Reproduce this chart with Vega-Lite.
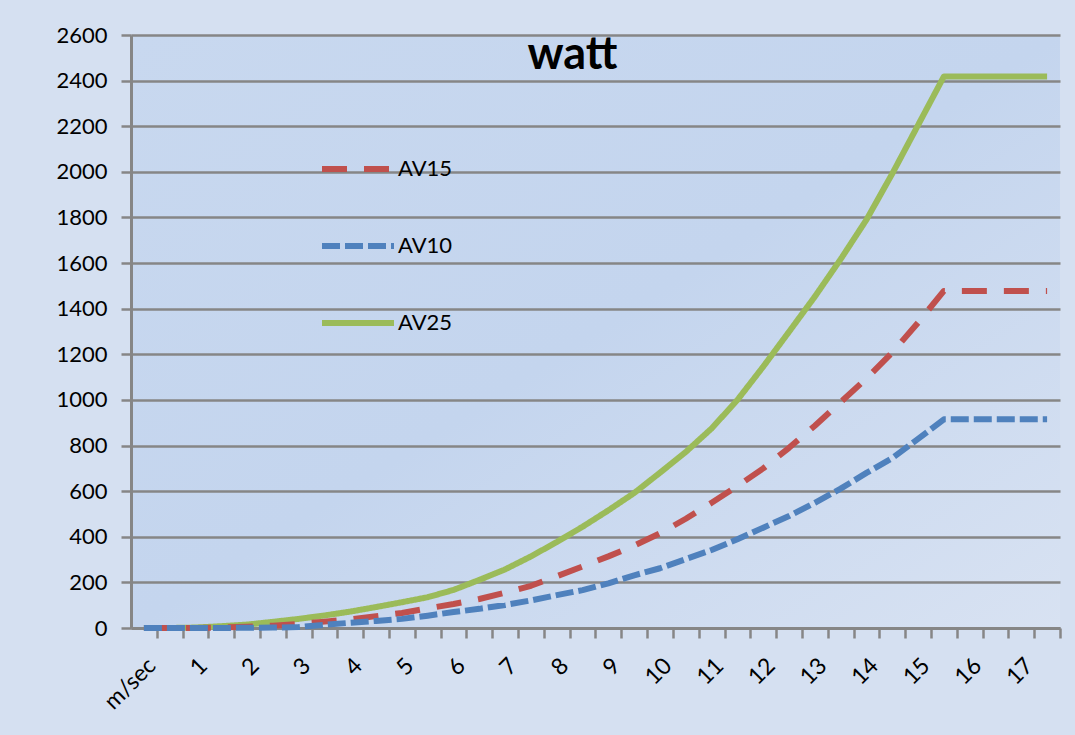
{
  "$schema": "https://vega.github.io/schema/vega-lite/v6.json",
  "autosize": {"type": "none"},
  "width": 929,
  "height": 593,
  "padding": {"left": 131, "top": 35, "right": 15, "bottom": 107},
  "background": "#d5e0f1",
  "config": {
    "font": "Lato",
    "view": {
      "stroke": null,
      "fill": {"gradient": "linear", "x1": 0, "y1": 0, "x2": 1, "y2": 1,
        "stops": [{"offset": 0, "color": "#c8d8ef"}, {"offset": 0.5, "color": "#c4d5ee"}, {"offset": 1, "color": "#d8e2f2"}]}
    }
  },
  "title": {
    "text": "watt",
    "frame": "group",
    "anchor": "middle",
    "orient": "top",
    "offset": -35,
    "baseline": "alphabetic",
    "dx": -23,
    "dy": 55,
    "fontSize": 45,
    "font": "Lato",
    "fontWeight": "bold",
    "color": "#000000"
  },
  "data": {"values": [
    {"k":0,"series":"AV25","watt":0},{"k":1,"series":"AV25","watt":0},{"k":2,"series":"AV25","watt":2},{"k":3,"series":"AV25","watt":8},{"k":4,"series":"AV25","watt":15},{"k":5,"series":"AV25","watt":27},{"k":6,"series":"AV25","watt":40},{"k":7,"series":"AV25","watt":55},{"k":8,"series":"AV25","watt":72},{"k":9,"series":"AV25","watt":92},{"k":10,"series":"AV25","watt":113},{"k":11,"series":"AV25","watt":135},{"k":12,"series":"AV25","watt":167},{"k":13,"series":"AV25","watt":211},{"k":14,"series":"AV25","watt":257},{"k":15,"series":"AV25","watt":314},{"k":16,"series":"AV25","watt":377},{"k":17,"series":"AV25","watt":444},{"k":18,"series":"AV25","watt":516},{"k":19,"series":"AV25","watt":592},{"k":20,"series":"AV25","watt":681},{"k":21,"series":"AV25","watt":772},{"k":22,"series":"AV25","watt":875},{"k":23,"series":"AV25","watt":1000},{"k":24,"series":"AV25","watt":1146},{"k":25,"series":"AV25","watt":1299},{"k":26,"series":"AV25","watt":1453},{"k":27,"series":"AV25","watt":1617},{"k":28,"series":"AV25","watt":1790},{"k":29,"series":"AV25","watt":1992},{"k":30,"series":"AV25","watt":2205},{"k":31,"series":"AV25","watt":2418},{"k":32,"series":"AV25","watt":2418},{"k":33,"series":"AV25","watt":2418},{"k":34,"series":"AV25","watt":2418},{"k":35,"series":"AV25","watt":2418},
    {"k":0,"series":"AV15","watt":0},{"k":1,"series":"AV15","watt":0},{"k":2,"series":"AV15","watt":0},{"k":3,"series":"AV15","watt":2},{"k":4,"series":"AV15","watt":5},{"k":5,"series":"AV15","watt":10},{"k":6,"series":"AV15","watt":18},{"k":7,"series":"AV15","watt":28},{"k":8,"series":"AV15","watt":38},{"k":9,"series":"AV15","watt":52},{"k":10,"series":"AV15","watt":66},{"k":11,"series":"AV15","watt":86},{"k":12,"series":"AV15","watt":105},{"k":13,"series":"AV15","watt":127},{"k":14,"series":"AV15","watt":155},{"k":15,"series":"AV15","watt":185},{"k":16,"series":"AV15","watt":227},{"k":17,"series":"AV15","watt":270},{"k":18,"series":"AV15","watt":314},{"k":19,"series":"AV15","watt":361},{"k":20,"series":"AV15","watt":415},{"k":21,"series":"AV15","watt":479},{"k":22,"series":"AV15","watt":549},{"k":23,"series":"AV15","watt":622},{"k":24,"series":"AV15","watt":700},{"k":25,"series":"AV15","watt":790},{"k":26,"series":"AV15","watt":887},{"k":27,"series":"AV15","watt":990},{"k":28,"series":"AV15","watt":1094},{"k":29,"series":"AV15","watt":1208},{"k":30,"series":"AV15","watt":1339},{"k":31,"series":"AV15","watt":1478},{"k":32,"series":"AV15","watt":1478},{"k":33,"series":"AV15","watt":1478},{"k":34,"series":"AV15","watt":1478},{"k":35,"series":"AV15","watt":1478},
    {"k":0,"series":"AV10","watt":0},{"k":1,"series":"AV10","watt":0},{"k":2,"series":"AV10","watt":0},{"k":3,"series":"AV10","watt":0},{"k":4,"series":"AV10","watt":1},{"k":5,"series":"AV10","watt":2},{"k":6,"series":"AV10","watt":4},{"k":7,"series":"AV10","watt":14},{"k":8,"series":"AV10","watt":23},{"k":9,"series":"AV10","watt":31},{"k":10,"series":"AV10","watt":40},{"k":11,"series":"AV10","watt":54},{"k":12,"series":"AV10","watt":70},{"k":13,"series":"AV10","watt":84},{"k":14,"series":"AV10","watt":101},{"k":15,"series":"AV10","watt":121},{"k":16,"series":"AV10","watt":144},{"k":17,"series":"AV10","watt":166},{"k":18,"series":"AV10","watt":196},{"k":19,"series":"AV10","watt":231},{"k":20,"series":"AV10","watt":262},{"k":21,"series":"AV10","watt":302},{"k":22,"series":"AV10","watt":342},{"k":23,"series":"AV10","watt":389},{"k":24,"series":"AV10","watt":440},{"k":25,"series":"AV10","watt":491},{"k":26,"series":"AV10","watt":549},{"k":27,"series":"AV10","watt":611},{"k":28,"series":"AV10","watt":680},{"k":29,"series":"AV10","watt":745},{"k":30,"series":"AV10","watt":829},{"k":31,"series":"AV10","watt":915},{"k":32,"series":"AV10","watt":915},{"k":33,"series":"AV10","watt":915},{"k":34,"series":"AV10","watt":915},{"k":35,"series":"AV10","watt":915}
  ]},
  "mark": {"type": "line", "strokeWidth": 6, "strokeCap": "butt", "strokeJoin": "round"},
  "encoding": {
    "x": {
      "field": "k",
      "type": "ordinal",
      "sort": "ascending",
      "scale": {"type": "point", "padding": 0.5},
      "axis": {
        "title": null,
        "labelExpr": "datum.value == 0 ? 'm/sec' : (datum.value % 2 == 0 ? '' + (datum.value / 2) : '')",
        "labelAngle": -45,
        "labelFontSize": 23,
        "labelFont": "Lato",
        "labelColor": "#000000",
        "labelOverlap": false,
        "labelPadding": 16,
        "tickOffset": 12.9,
        "labelOffset": -12.9,
        "tickSize": 10,
        "tickWidth": 2.5,
        "tickColor": "#868686",
        "domainColor": "#868686",
        "domainWidth": 3,
        "grid": false
      }
    },
    "y": {
      "field": "watt",
      "type": "quantitative",
      "scale": {"domain": [0, 2600], "nice": false, "zero": true},
      "axis": {
        "title": null,
        "format": "d",
        "values": [0,200,400,600,800,1000,1200,1400,1600,1800,2000,2200,2400,2600],
        "labelFontSize": 22,
        "labelFont": "Lato",
        "labelColor": "#000000",
        "labelPadding": 14,
        "tickSize": 10,
        "tickWidth": 2.5,
        "tickColor": "#868686",
        "domainColor": "#868686",
        "domainWidth": 3,
        "grid": true,
        "gridColor": "#868686",
        "gridWidth": 2.5,
        "gridOpacity": 1
      }
    },
    "color": {
      "field": "series",
      "type": "nominal",
      "scale": {"domain": ["AV15", "AV10", "AV25"], "range": ["#C0504D", "#4F81BD", "#9BBB59"]},
      "legend": {
        "title": null,
        "orient": "none",
        "legendX": 188,
        "legendY": 95,
        "symbolType": "stroke",
        "symbolSize": 5184,
        "symbolStrokeWidth": 6,
        "labelFontSize": 22,
        "labelFont": "Lato",
        "labelColor": "#000000",
        "labelOffset": 1,
        "rowPadding": 26
      }
    },
    "strokeDash": {
      "field": "series",
      "type": "nominal",
      "scale": {"domain": ["AV15", "AV10", "AV25"], "range": [[25, 17], [18, 5], [1, 0]]},
      "legend": {
        "title": null,
        "orient": "none",
        "legendX": 188,
        "legendY": 95,
        "symbolType": "stroke",
        "symbolSize": 5184,
        "symbolStrokeWidth": 6,
        "labelFontSize": 22,
        "labelFont": "Lato",
        "labelColor": "#000000",
        "labelOffset": 1,
        "rowPadding": 26
      }
    }
  }
}
